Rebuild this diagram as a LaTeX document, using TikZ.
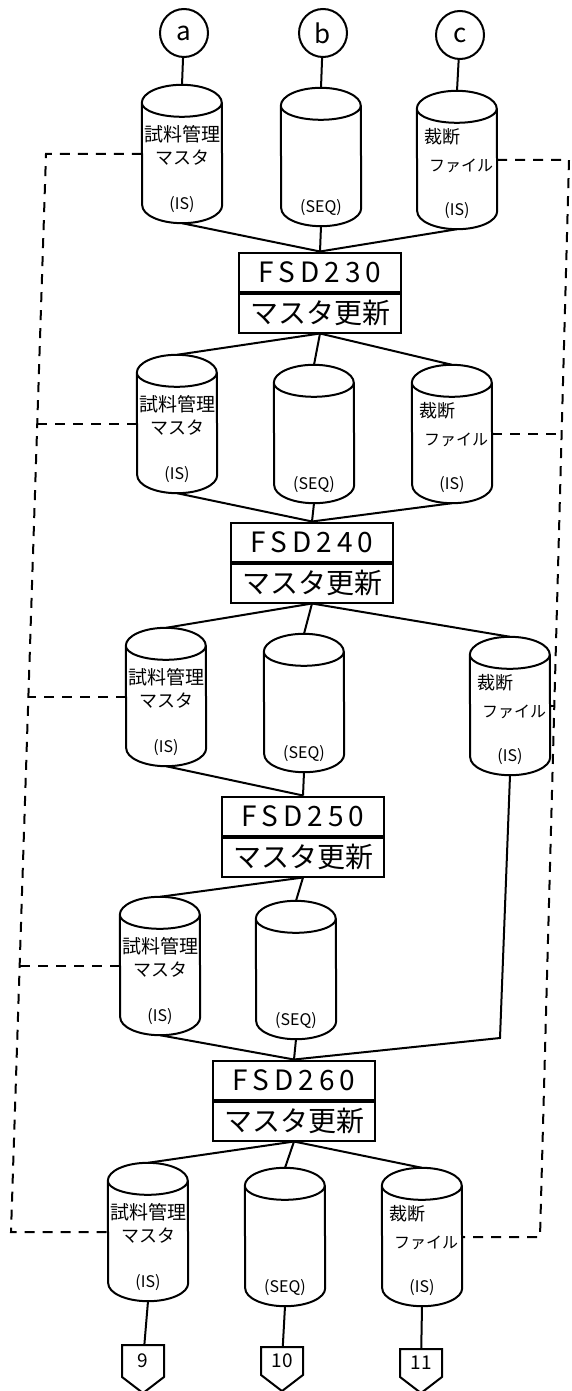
\documentclass[tikz,border=0pt]{standalone}
\usepackage{fontspec}
\usepackage{tikz}
\usetikzlibrary{positioning,shapes.symbols}
\newfontfamily\jpfont{Noto Sans CJK JP}
\tikzset{
  store/.style={minimum width=80pt,minimum height=138pt,inner sep=0pt},
  conn/.style={circle,draw,line width=2pt,minimum size=48pt,inner sep=0pt,
    font=\jpfont\fontsize{26}{26}\selectfont},
  pagebox/.style={signal,signal to=south,signal pointer angle=105,draw,line width=2pt,
    minimum width=42pt,minimum height=36pt,inner sep=0pt,
    font=\jpfont\fontsize{19}{19}\selectfont},
  procid/.style={draw,line width=2pt,minimum width=162pt,minimum height=39pt,
    inner sep=0pt,font=\jpfont\fontsize{28}{28}\selectfont},
  spaced/.style={font=\jpfont\fontsize{28}{28}\selectfont\addfontfeature{LetterSpace=18}},
  nameup/.style={font=\jpfont\fontsize{19}{19}\selectfont,inner sep=0pt,yshift=20pt},
  namelow/.style={font=\jpfont\fontsize{18}{18}\selectfont,inner sep=0pt,yshift=-4pt},
  fileup/.style={font=\jpfont\fontsize{18}{18}\selectfont,inner sep=0pt,xshift=-15pt,yshift=23pt},
  filelow/.style={font=\jpfont\fontsize{16}{16}\selectfont,inner sep=0pt,xshift=4pt,yshift=-6pt},
  dbtype/.style={font=\jpfont\fontsize{16}{16}\selectfont,inner sep=0pt,yshift=-51pt},
  link/.style={line width=2pt},
  ref/.style={line width=2pt,dash pattern=on 10pt off 8pt}
}
% outline of a disk file drawn round a store node
\newcommand{\drawstore}[1]{%
  \draw[link] ([yshift=-18pt]#1.north west)
    arc[start angle=180,end angle=0,x radius=40pt,y radius=18pt]
    -- ([yshift=18pt]#1.south east)
    arc[start angle=0,end angle=-180,x radius=40pt,y radius=18pt] -- cycle
    ([yshift=-18pt]#1.north west)
    arc[start angle=180,end angle=360,x radius=40pt,y radius=14pt];}
\begin{document}
\begin{tikzpicture}[x=1pt,y=-1pt]
\useasboundingbox (0,0) rectangle (572,1391);
% input connectors
\node[conn] (ca) at (184,33) {a};
\node[conn] (cb) at (323,33) {b};
\node[conn] (cc) at (460,35) {c};
% FSD230
\node[store] (L1) at (182,154) {};
\node[store] (M1) at (321,157) {};
\node[store] (R1) at (457,160) {};
\node[procid,spaced] (p1) at (320,272) {FSD230};
\node[procid,below=0pt of p1] (p1u) {マスタ更新};
% FSD240
\node[store] (L2) at (177,424) {};
\node[store] (M2) at (314,434) {};
\node[store] (R2) at (452,434) {};
\node[procid,spaced] (p2) at (312,542) {FSD240};
\node[procid,below=0pt of p2] (p2u) {マスタ更新};
% FSD250
\node[store] (L3) at (166,697) {};
\node[store] (M3) at (304,703) {};
\node[store] (R3) at (510,706) {};
\node[procid,spaced] (p3) at (303,816) {FSD250};
\node[procid,below=0pt of p3] (p3u) {マスタ更新};
% FSD260
\node[store] (L4) at (160,966) {};
\node[store] (M4) at (296,970) {};
\node[procid,spaced] (p4) at (294,1080) {FSD260};
\node[procid,below=0pt of p4] (p4u) {マスタ更新};
% outputs
\node[store] (L5) at (148,1232) {};
\node[store] (M5) at (285,1237) {};
\node[store] (R5) at (422,1237) {};
\node[pagebox] (o9) at (143,1361) {9};
\node[pagebox] (o10) at (282,1361) {10};
\node[pagebox] (o11) at (421,1363) {11};
% file outlines and their texts
\foreach \n in {L1,M1,R1,L2,M2,R2,L3,M3,R3,L4,M4,L5,M5,R5} \drawstore{\n};
\foreach \n in {L1,L2,L3,L4,L5} {
  \node[nameup] (\n a) at (\n.center) {試料管理};
  \node[namelow] (\n b) at (\n.center) {マスタ};
  \node[dbtype] (\n t) at (\n.center) {(IS)};
}
\foreach \n in {R1,R2,R3,R5} {
  \node[fileup] (\n a) at (\n.center) {裁断};
  \node[filelow] (\n b) at (\n.center) {ファイル};
  \node[dbtype] (\n t) at (\n.center) {(IS)};
}
\foreach \n in {M1,M2,M3,M4,M5} \node[dbtype] (\n t) at (\n.center) {(SEQ)};
\coordinate (r3b) at (500,1038);
% solid flow lines
\draw[link] (ca) -- (L1.north) (cb) -- (M1.north) (cc) -- (R1.north);
\foreach \n in {L1,M1,R1} \draw[link] (\n.south) -- (p1.north);
\foreach \n in {L2,M2,R2} \draw[link] (p1u.south) -- (\n.north);
\foreach \n in {L2,M2,R2} \draw[link] (\n.south) -- (p2.north);
\foreach \n in {L3,M3,R3} \draw[link] (p2u.south) -- (\n.north);
\foreach \n in {L3,M3} \draw[link] (\n.south) -- (p3.north);
\foreach \n in {L4,M4} \draw[link] (p3u.south) -- (\n.north);
\foreach \n in {L4,M4} \draw[link] (\n.south) -- (p4.north);
\draw[link] (R3.south) -- (r3b) -- (p4.north);
\foreach \n in {L5,M5,R5} \draw[link] (p4u.south) -- (\n.north);
\draw[link] (L5.south) -- (o9) (M5.south) -- (o10) (R5.south) -- (o11);
% dashed reference lines
\coordinate (dl1) at (46,154);  \coordinate (dl2) at (37,424);
\coordinate (dl3) at (28,697);  \coordinate (dl4) at (20,966);
\coordinate (dl5) at (11,1232);
\coordinate (dr1) at (569,160); \coordinate (dr2) at (562,434);
\coordinate (dr3) at (554,706); \coordinate (dr5) at (540,1237);
\draw[ref] (L1.west) -- (dl1) -- (dl5) -- (L5.west);
\draw[ref] (L2.west) -- (dl2) (L3.west) -- (dl3) (L4.west) -- (dl4);
\draw[ref] (R1.east) -- (dr1) -- (dr5) -- (R5.east);
\draw[ref] (R2.east) -- (dr2);
\draw[link] (R3.east) -- (dr3);
\end{tikzpicture}
\end{document}
